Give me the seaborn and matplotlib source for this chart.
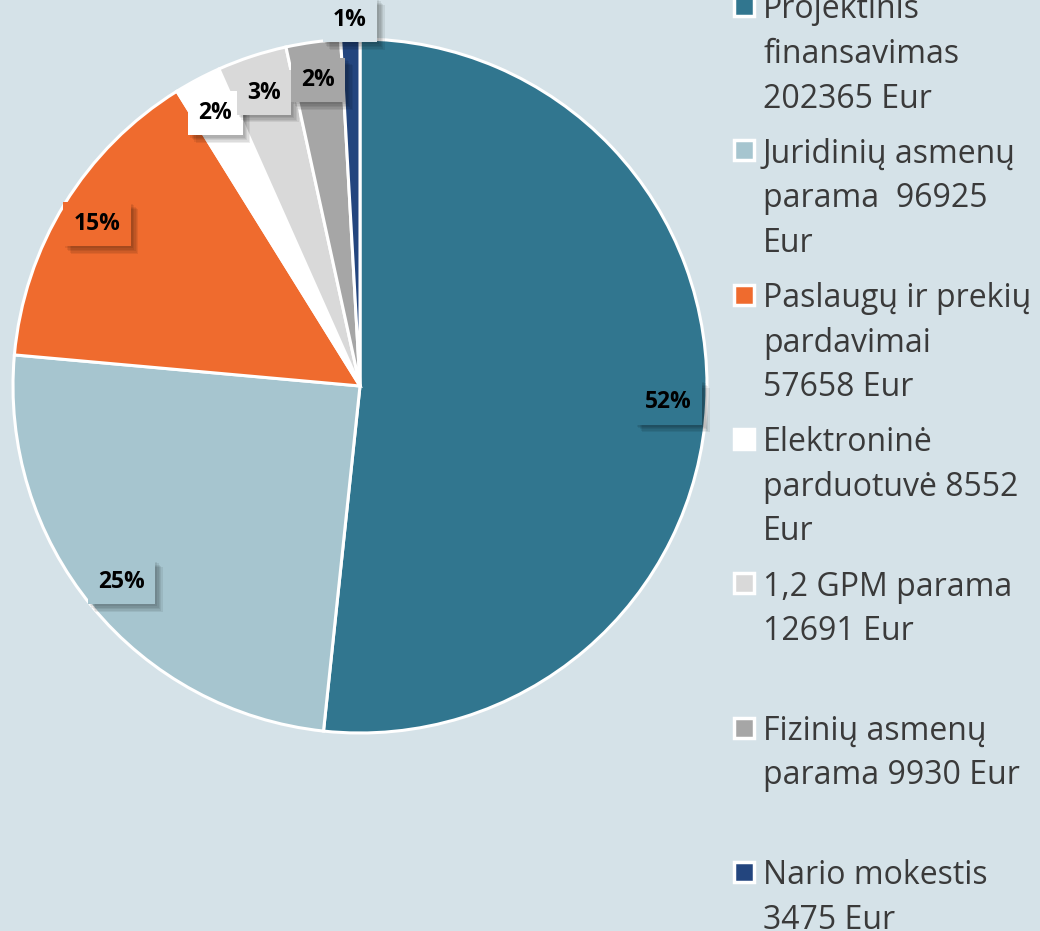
"""Pajamų šaltinių struktūra: skritulinė diagrama su legenda dešinėje."""

import matplotlib

matplotlib.use("Agg")

import matplotlib.patheffects as pe
import matplotlib.pyplot as plt
import seaborn as sns
from matplotlib.patches import Rectangle

sns.set_theme(style="white")
plt.rcParams["font.family"] = ["Open Sans", "DejaVu Sans"]

BG = "#d5e2e8"

SOURCES = [
    "Projektinis finansavimas",
    "Juridinių asmenų parama",
    "Paslaugų ir prekių pardavimai",
    "Elektroninė parduotuvė",
    "1,2 GPM parama",
    "Fizinių asmenų parama",
    "Nario mokestis",
]
AMOUNTS = [202365, 96925, 57658, 8552, 12691, 9930, 3475]
PCT_LABELS = ["52%", "25%", "15%", "2%", "3%", "2%", "1%"]
LEGEND_LABELS = [
    "Projektinis\nfinansavimas\n202365 Eur",
    "Juridinių asmenų\nparama  96925\nEur",
    "Paslaugų ir prekių\npardavimai\n57658 Eur",
    "Elektroninė\nparduotuvė 8552\nEur",
    "1,2 GPM parama\n12691 Eur",
    "Fizinių asmenų\nparama 9930 Eur",
    "Nario mokestis\n3475 Eur",
]
COLORS = ["#31768f", "#a6c5cf", "#ef6b2e", "#ffffff", "#d9d9d9", "#a6a6a6", "#23457e"]

W, H = 1040, 931


def draw_pie(fig):
    cx, cy, r = 360, 386, 347
    ax = fig.add_axes([(cx - r) / W, (H - cy - r) / H, 2 * r / W, 2 * r / H])
    palette = sns.color_palette(COLORS)
    _, _, autotexts = ax.pie(
        AMOUNTS,
        colors=palette,
        startangle=90,
        counterclock=False,
        autopct="%1.0f%%",
        pctdistance=0.89,
        wedgeprops=dict(edgecolor="white", linewidth=2.2),
        textprops=dict(fontsize=16.5, fontweight="bold", color="black"),
    )
    # soft drop shadow: a few stacked low-alpha copies
    shadow = [
        pe.withSimplePatchShadow(offset=(k, -k), shadow_rgbFace="black", alpha=0.07)
        for k in (1.5, 2.5, 3.5, 4.5, 5.5)
    ] + [pe.Normal()]
    for i, (t, lab) in enumerate(zip(autotexts, PCT_LABELS)):
        t.set_text(lab)
        face = COLORS[i] if i < len(COLORS) - 1 else BG
        if i == len(autotexts) - 1:
            x, y = t.get_position()
            t.set_position((x * 1.055 / 0.89, y * 1.055 / 0.89))
        t.set_bbox(dict(boxstyle="square,pad=0.45", facecolor=face, edgecolor="none"))
        t.get_bbox_patch().set_path_effects(shadow)
    ax.set_xlim(-1, 1)
    ax.set_ylim(-1, 1)
    ax.axis("off")


def draw_legend(fig):
    for i, (label, color) in enumerate(zip(LEGEND_LABELS, COLORS)):
        yc = 6 + i * 144.3
        fig.add_artist(
            Rectangle(
                (734 / W, 1 - (yc + 10) / H),
                20 / W,
                20 / H,
                transform=fig.transFigure,
                facecolor=color,
                edgecolor="white",
                linewidth=2.5,
            )
        )
        for j, line in enumerate(label.split("\n")):
            fig.text(
                763 / W,
                1 - (yc + j * 44.5) / H,
                line,
                va="center_baseline",
                ha="left",
                fontsize=23,
                color="#3a3a3a",
            )


def main() -> None:
    fig = plt.figure(figsize=(W / 100, H / 100), dpi=100)
    fig.patch.set_facecolor(BG)
    draw_pie(fig)
    draw_legend(fig)
    fig.savefig("out.png", dpi=100, facecolor=BG)
    plt.close(fig)


if __name__ == "__main__":
    main()
